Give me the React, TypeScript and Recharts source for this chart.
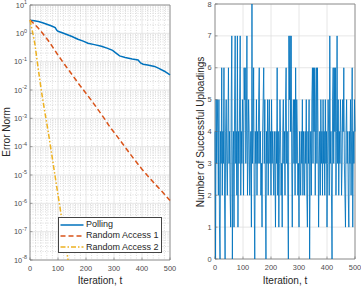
import React from 'react';
import { LineChart, Line, XAxis, YAxis, CartesianGrid, ReferenceArea, Legend } from 'recharts';

const FONT = '"Liberation Sans", Arial, Helvetica, sans-serif';

// ---- left panel: error norm vs iteration ----
const pollingIter = [0, 15, 30, 45, 60, 75, 90, 95, 100, 115, 136, 150, 171, 190, 207, 230, 255, 275, 295, 305, 320, 340, 365, 386, 395, 404, 420, 445, 460, 480, 500];
const pollingErr = [2.9, 2.8, 2.6, 2.35, 2.1, 1.85, 1.6, 1.3, 1.18, 1.05, 0.87, 0.77, 0.62, 0.53, 0.45, 0.4, 0.35, 0.3, 0.25, 0.21, 0.16, 0.14, 0.125, 0.115, 0.09, 0.081, 0.076, 0.068, 0.058, 0.046, 0.034];

const ra1Iter = [0, 15, 30, 45, 65, 80, 100, 125, 150, 175, 195, 220, 245, 265, 285, 310, 340, 370, 400, 425, 445, 470, 500];
const ra1Err = [2.95, 2.14, 1.5, 1.0, 0.56, 0.34, 0.17, 0.076, 0.035, 0.016, 0.0089, 0.0042, 0.0019, 1.0e-3, 5.0e-4, 2.4e-4, 9.5e-5, 3.8e-5, 1.6e-5, 8.3e-6, 5.0e-6, 2.7e-6, 1.26e-6];

const ra2Iter = [0, 8, 17, 28, 40, 52, 64, 76, 88, 100, 112, 124, 136, 148];
const ra2Err = [2.95, 1.26, 0.45, 0.071, 0.0102, 0.0019, 3.9e-4, 6.8e-5, 1.15e-5, 2.0e-6, 3.5e-7, 5.9e-8, 1.0e-8, 1.7e-9];

const iterTicks = [0, 100, 200, 300, 400, 500];
const iterMinor = [20, 40, 60, 80, 120, 140, 160, 180, 220, 240, 260, 280, 320, 340, 360, 380, 420, 440, 460, 480];
const errTicks = [1e-8, 1e-7, 1e-6, 1e-5, 1e-4, 1e-3, 1e-2, 1e-1, 1, 10];
const errMinor: number[] = [];
for (let k = -8; k <= 0; k++) {
  for (let m = 2; m <= 9; m++) errMinor.push(m * Math.pow(10, k));
}

// ---- right panel: number of successful uploadings (every 2nd iteration) ----
const uploads = [
  4, 0, 5, 3, 5, 4, 2, 5, 1, 0, 4, 3, 6, 2, 4, 3, 6, 2, 0, 4, 5, 3, 2, 4, 6,
  3, 4, 2, 1, 5, 7, 0, 3, 4, 1, 5, 7, 3, 4, 2, 7, 1, 4, 3, 5, 7, 2, 4, 3, 5,
  4, 2, 6, 5, 6, 3, 4, 7, 2, 3, 5, 4, 2, 3, 4, 1, 8, 3, 4, 6, 2, 0, 4, 3, 5,
  2, 4, 3, 5, 6, 3, 4, 2, 3, 1, 4, 5, 6, 3, 5, 2, 0, 4, 3, 5, 2, 4, 5, 3, 4,
  2, 5, 3, 4, 3, 2, 4, 3, 1, 4, 3, 6, 2, 4, 1, 3, 5, 4, 2, 3, 1, 4, 5, 3, 4,
  2, 5, 6, 3, 4, 2, 0, 7, 5, 7, 4, 7, 3, 1, 4, 5, 3, 5, 2, 6, 3, 5, 4, 2, 3,
  1, 4, 3, 2, 4, 3, 5, 2, 4, 3, 2, 4, 3, 5, 2, 1, 4, 3, 5, 0, 3, 4, 2, 5, 6,
  3, 6, 4, 6, 2, 5, 6, 3, 6, 4, 1, 3, 4, 2, 5, 3, 4, 2, 5, 3, 4, 2, 5, 3, 4,
  1, 3, 5, 4, 2, 7, 3, 4, 2, 0, 5, 6, 3, 6, 4, 6, 2, 4, 7, 3, 5, 2, 4, 3, 5,
  4, 2, 3, 5, 4, 6, 3, 2, 1, 4, 5, 3, 4, 2, 1, 4, 3, 5, 2, 4, 6, 1, 4, 3, 5,
  4,
];
const uploadTicks = [0, 1, 2, 3, 4, 5, 6, 7, 8];

const pollingData = pollingIter.map((t, i) => ({ t, v: pollingErr[i] }));
const ra1Data = ra1Iter.map((t, i) => ({ t, v: ra1Err[i] }));
const ra2Data = ra2Iter.map((t, i) => ({ t, v: ra2Err[i] }));
const uploadData = uploads.map((n, i) => ({ t: i * 2, n }));

const BLUE = '#0072BD';
const RED = '#D95319';
const YELLOW = '#EDB120';
const TICK_COLOR = '#4d4d4d';
const BOX = '#8a8a8a';

const dashes: Record<string, string | undefined> = {
  'Polling': undefined,
  'Random Access 1': '5 3',
  'Random Access 2': '5 2 1.5 2',
};

const XTick = (props: any) => {
  const { x, y, payload } = props;
  return (
    <text x={x} y={y} dy="0.71em" textAnchor="middle" fontSize={7.4} fill={TICK_COLOR} fontFamily={FONT}>
      {payload.value}
    </text>
  );
};

const LogTick = (props: any) => {
  const { x, y, payload } = props;
  const e = Math.round(Math.log10(payload.value));
  return (
    <text x={x} y={y} textAnchor="end" fontSize={7.4} fill={TICK_COLOR} fontFamily={FONT}>
      <tspan dy="0.35em">10</tspan>
      <tspan dy="-0.6em" fontSize={5.4}>{e}</tspan>
    </text>
  );
};

const LinTick = (props: any) => {
  const { x, y, payload } = props;
  return (
    <text x={x} y={y} dy="0.35em" textAnchor="end" fontSize={7.4} fill={TICK_COLOR} fontFamily={FONT}>
      {payload.value}
    </text>
  );
};

const NoLabel = () => <g />;

const tickLineStyle = { stroke: '#6a6a6a', strokeWidth: 0.6 };

const LegendBox = (props: any) => {
  const { payload } = props;
  return (
    <div style={{ width: 104, height: 36, background: '#fff', border: '1px solid #444', boxSizing: 'border-box', fontFamily: FONT, fontSize: 9, color: '#262626', paddingTop: 1 }}>
      {(payload || []).map((p: any) => (
        <div key={p.value} style={{ display: 'flex', alignItems: 'center', height: 11.3, lineHeight: '11px' }}>
          <svg width={27} height={8} style={{ flex: 'none' }}>
            <line x1={1.5} y1={4} x2={24.5} y2={4} stroke={p.color} strokeWidth={1.5} strokeDasharray={dashes[p.value]} />
          </svg>
          <span style={{ whiteSpace: 'nowrap' }}>{p.value}</span>
        </div>
      ))}
    </div>
  );
};

export default function App() {
  return (
    <div style={{ position: 'absolute', left: 0, top: 0, width: 361, height: 286, background: '#fff', overflow: 'hidden' }}>
      <div style={{ position: 'absolute', left: 0, top: 0 }}>
        <LineChart width={180} height={286} margin={{ top: 5, right: 10, bottom: 0, left: 0 }}>
          <CartesianGrid horizontalValues={errMinor} verticalValues={iterMinor} stroke="#c4c4c4" strokeDasharray="1 1.5" strokeWidth={0.6} />
          <CartesianGrid stroke="#e0e0e0" strokeWidth={0.8} />
          <XAxis dataKey="t" type="number" domain={[0, 500]} ticks={iterTicks} interval={0} axisLine={false} tickLine={tickLineStyle} tickSize={-2.5} tickMargin={8.5} height={26} tick={<XTick />} />
          <XAxis xAxisId="top" orientation="top" type="number" domain={[0, 500]} ticks={iterTicks} interval={0} axisLine={false} tickLine={tickLineStyle} tickSize={-2.5} height={0} tick={<NoLabel />} />
          <YAxis type="number" scale="log" domain={[1e-8, 10]} ticks={errTicks} interval={0} allowDataOverflow axisLine={false} tickLine={tickLineStyle} tickSize={-2.5} tickMargin={5.5} width={30} tick={<LogTick />} />
          <YAxis yAxisId="right" orientation="right" type="number" scale="log" domain={[1e-8, 10]} ticks={errTicks} interval={0} allowDataOverflow axisLine={false} tickLine={tickLineStyle} tickSize={-2.5} width={0} tick={<NoLabel />} />
          <ReferenceArea x1={0} x2={500} y1={1e-8} y2={10} fill="none" stroke={BOX} strokeWidth={0.9} />
          <Line data={pollingData} dataKey="v" name="Polling" stroke={BLUE} strokeWidth={1.5} dot={false} isAnimationActive={false} />
          <Line data={ra1Data} dataKey="v" name="Random Access 1" stroke={RED} strokeWidth={1.5} strokeDasharray="5 3" dot={false} isAnimationActive={false} />
          <Line data={ra2Data} dataKey="v" name="Random Access 2" stroke={YELLOW} strokeWidth={1.5} strokeDasharray="5 2 1.5 2" dot={false} isAnimationActive={false} />
          <Legend layout="vertical" align="center" verticalAlign="middle" content={<LegendBox />} wrapperStyle={{ left: 58, top: 217, width: 104, height: 36 }} />
        </LineChart>
      </div>
      <div style={{ position: 'absolute', left: 180, top: 0 }}>
        <LineChart width={181} height={286} data={uploadData} margin={{ top: 4, right: 6, bottom: 0, left: 0 }}>
          <CartesianGrid stroke="#e0e0e0" strokeWidth={0.8} />
          <XAxis dataKey="t" type="number" domain={[0, 500]} ticks={iterTicks} interval={0} axisLine={false} tickLine={tickLineStyle} tickSize={-2.5} tickMargin={8.5} height={27} tick={<XTick />} />
          <XAxis xAxisId="top" orientation="top" type="number" domain={[0, 500]} ticks={iterTicks} interval={0} axisLine={false} tickLine={tickLineStyle} tickSize={-2.5} height={0} tick={<NoLabel />} />
          <YAxis type="number" domain={[0, 8]} ticks={uploadTicks} interval={0} axisLine={false} tickLine={tickLineStyle} tickSize={-2.5} tickMargin={6} width={35} tick={<LinTick />} />
          <YAxis yAxisId="right" orientation="right" type="number" domain={[0, 8]} ticks={uploadTicks} interval={0} axisLine={false} tickLine={tickLineStyle} tickSize={-2.5} width={0} tick={<NoLabel />} />
          <ReferenceArea x1={0} x2={500} y1={0} y2={8} fill="none" stroke={BOX} strokeWidth={0.9} />
          <Line dataKey="n" stroke={BLUE} strokeWidth={0.85} dot={false} isAnimationActive={false} />
        </LineChart>
      </div>
      <svg width={361} height={286} style={{ position: 'absolute', left: 0, top: 0, pointerEvents: 'none' }}>
        <text x={100} y={283.5} textAnchor="middle" fontSize={10} fill="#262626" fontFamily={FONT}>Iteration, t</text>
        <text x={285} y={283.5} textAnchor="middle" fontSize={10} fill="#262626" fontFamily={FONT}>Iteration, t</text>
        <text x={10} y={132} textAnchor="middle" fontSize={10} fill="#262626" fontFamily={FONT} transform="rotate(-90 10 132)">Error Norm</text>
        <text x={203.5} y={132} textAnchor="middle" fontSize={10} fill="#262626" fontFamily={FONT} transform="rotate(-90 203.5 132)">Number of Successful Uploadings</text>
      </svg>
    </div>
  );
}
